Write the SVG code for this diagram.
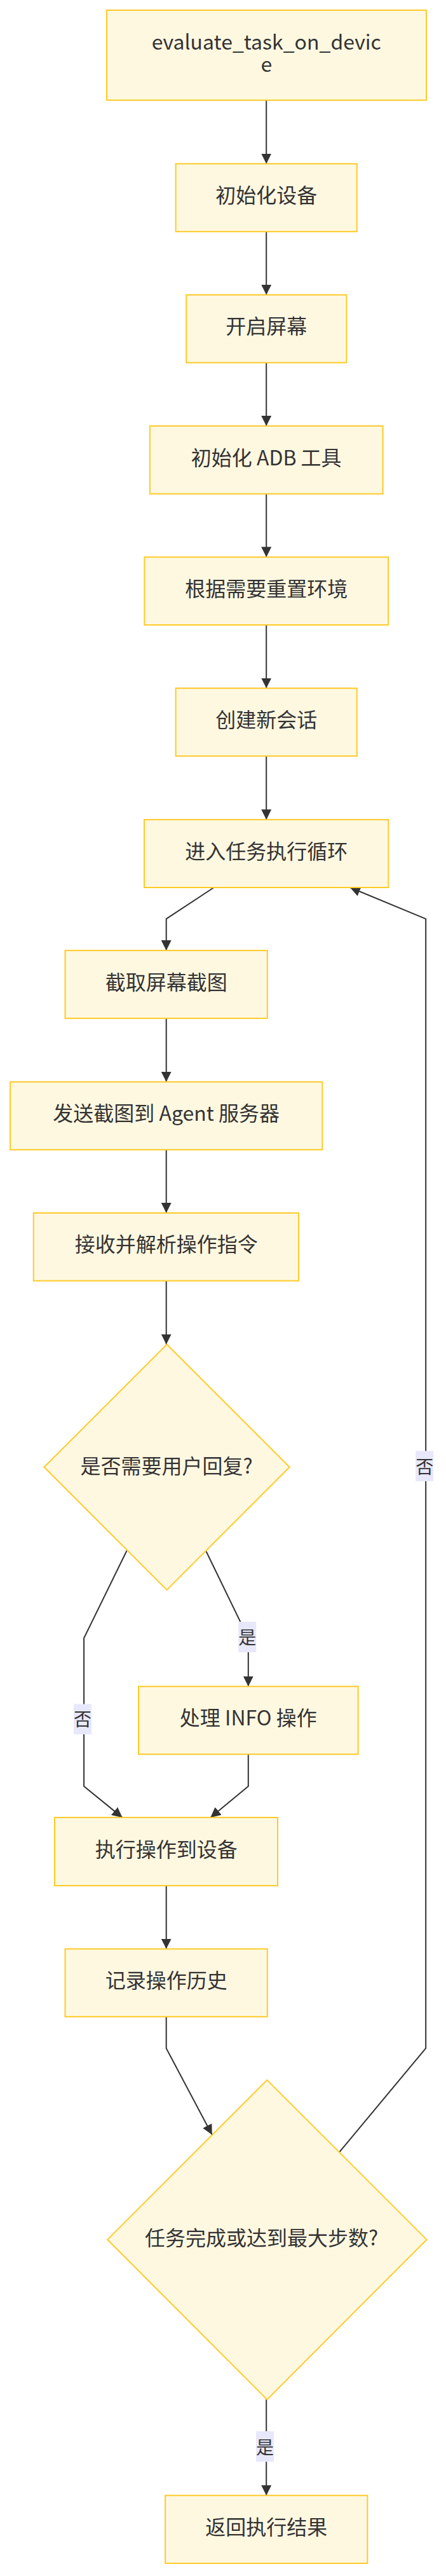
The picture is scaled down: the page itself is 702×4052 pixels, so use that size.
<svg xmlns="http://www.w3.org/2000/svg" width="702" height="4052" viewBox="0 0 702 4052">
<style>
.node rect, .node polygon { fill: #fff8e1; stroke: #ffca28; stroke-width: 2; }
.node text { font-family: "Noto Sans CJK SC", "Noto Sans", sans-serif; font-size: 32px; fill: #333333; text-anchor: middle; }
.edges path { fill: none; stroke: #333333; stroke-width: 2; marker-end: url(#arrow); }
.elabel rect { fill: #e8e8fc; stroke: none; }
.elabel text { font-family: "Noto Sans CJK SC", "Noto Sans", sans-serif; font-size: 28px; fill: #333333; text-anchor: middle; }
</style>
<defs>
<marker id="arrow" markerUnits="userSpaceOnUse" markerWidth="16" markerHeight="16" viewBox="0 0 16 16" refX="16" refY="8" orient="auto">
<path d="M0,0 L16,8 L0,16 z" fill="#333333"/>
</marker>
</defs>
<rect x="0" y="0" width="702" height="4052" fill="#ffffff"/>

<g id="connectors" class="edges">
<path d="M419.2,157.6 L419.2,257.6"/>
<path d="M419.2,364.3 L419.2,463.8"/>
<path d="M419.2,570.5 L419.2,670.1"/>
<path d="M419.2,776.8 L419.2,876.3"/>
<path d="M419.2,983 L419.2,1082.6"/>
<path d="M419.2,1189.3 L419.2,1289.3"/>
<path d="M336.7,1396 L261.7,1445.3 L261.7,1495.1"/>
<path d="M261.7,1602.2 L261.7,1701.8"/>
<path d="M261.7,1808.5 L261.7,1908"/>
<path d="M261.7,2014.7 L261.7,2114.7"/>
<path d="M199.5,2439.3 L132.1,2576.8 L132.1,2809.8 L192.5,2858.9"/>
<path d="M324.5,2440.2 L390.8,2576.8 L390.8,2652.7"/>
<path d="M390.8,2759.4 L390.8,2809.8 L331.3,2858.9"/>
<path d="M261.7,2966.1 L261.7,3065.6"/>
<path d="M261.7,3172.3 L261.7,3221.9 L333.8,3358"/>
<path d="M534.5,3384.8 L670.2,3221.9 L670.2,1445.3 L551,1396"/>
<path d="M419.2,3774.4 L419.2,3925.3"/>
</g>

<g id="edge-labels">
<g class="elabel"><rect x="116" y="2680.4" width="28" height="47.7"/><text x="130" y="2715">否</text></g>
<g class="elabel"><rect x="375.2" y="2551" width="28" height="48"/><text x="389.2" y="2586.4">是</text></g>
<g class="elabel"><rect x="654.2" y="2282.3" width="28" height="47.7"/><text x="668.2" y="2318">否</text></g>
<g class="elabel"><rect x="403" y="3824.3" width="28" height="48"/><text x="417" y="3859.5">是</text></g>
</g>

<g id="n1" class="node"><rect x="168" y="16" width="503" height="141.6"/><text x="419.3" y="77.7">evaluate_task_on_devic<tspan x="419.3" y="112.7">e</tspan></text></g>
<g id="n2" class="node"><rect x="276.6" y="257.6" width="285.2" height="106.7"/><text x="419.2" y="318.7">初始化设备</text></g>
<g id="n3" class="node"><rect x="293.2" y="463.8" width="252.1" height="106.7"/><text x="419.2" y="525">开启屏幕</text></g>
<g id="n4" class="node"><rect x="235.9" y="670.1" width="366.7" height="106.7"/><text x="419.2" y="731.5">初始化 ADB 工具</text></g>
<g id="n5" class="node"><rect x="227.4" y="876.3" width="383.7" height="106.7"/><text x="419.2" y="937.7">根据需要重置环境</text></g>
<g id="n6" class="node"><rect x="276.6" y="1082.6" width="285.2" height="106.7"/><text x="419.2" y="1144">创建新会话</text></g>
<g id="n7" class="node"><rect x="227" y="1289.3" width="384.3" height="106.7"/><text x="419.2" y="1350.6">进入任务执行循环</text></g>
<g id="n8" class="node"><rect x="102.5" y="1495.1" width="318.3" height="106.7"/><text x="261.7" y="1556.6">截取屏幕截图</text></g>
<g id="n9" class="node"><rect x="16.1" y="1701.8" width="491.2" height="106.7"/><text x="261.7" y="1763.2">发送截图到 Agent 服务器</text></g>
<g id="n10" class="node"><rect x="52.8" y="1908" width="417.3" height="106.7"/><text x="261.7" y="1969.4">接收并解析操作指令</text></g>
<g id="d1" class="node"><polygon points="262.6,2114.7 455.8,2307.8 262.6,2500.9 69.4,2307.8"/><text x="262" y="2318">是否需要用户回复?</text></g>
<g id="n11" class="node"><rect x="218" y="2652.7" width="345.7" height="106.7"/><text x="390.8" y="2714">处理 INFO 操作</text></g>
<g id="n12" class="node"><rect x="86" y="2858.9" width="351" height="107.2"/><text x="261.7" y="2920.5">执行操作到设备</text></g>
<g id="n13" class="node"><rect x="102.5" y="3065.6" width="318.3" height="106.7"/><text x="261.7" y="3127">记录操作历史</text></g>
<g id="d2" class="node"><polygon points="420.4,3271.9 671.6,3522.9 420.4,3774.4 169.2,3522.9"/><text x="411.5" y="3532">任务完成或达到最大步数?</text></g>
<g id="n14" class="node"><rect x="260.1" y="3925.3" width="318.3" height="106.7"/><text x="419.2" y="3987">返回执行结果</text></g>
</svg>
